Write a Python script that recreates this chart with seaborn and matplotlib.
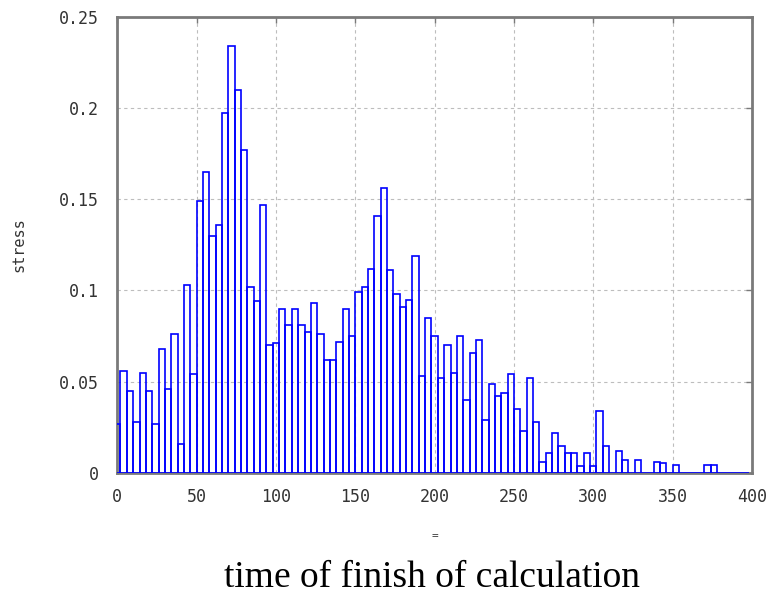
import numpy as np
import pandas as pd
import matplotlib
matplotlib.use("Agg")
import matplotlib.pyplot as plt
import seaborn as sns

# ---- data ----
bin_width = 4
stress = [
    0.027, 0.056, 0.045, 0.028, 0.055, 0.045, 0.027, 0.068, 0.046, 0.076,
    0.016, 0.103, 0.054, 0.149, 0.165, 0.130, 0.136, 0.197, 0.234, 0.210,
    0.177, 0.102, 0.094, 0.147, 0.070, 0.071, 0.090, 0.081, 0.090, 0.081,
    0.077, 0.093, 0.076, 0.062, 0.062, 0.072, 0.090, 0.075, 0.099, 0.102,
    0.112, 0.141, 0.156, 0.111, 0.098, 0.091, 0.095, 0.119, 0.053, 0.085,
    0.075, 0.052, 0.070, 0.055, 0.075, 0.040, 0.066, 0.073, 0.029, 0.049,
    0.042, 0.044, 0.054, 0.035, 0.023, 0.052, 0.028, 0.006, 0.011, 0.022,
    0.015, 0.011, 0.011, 0.004, 0.011, 0.004, 0.034, 0.015, 0.000, 0.012,
    0.007, 0.000, 0.007, 0.000, 0.000, 0.006, 0.0055, 0.000, 0.0045, 0.000,
    0.000, 0.000, 0.000, 0.0045, 0.0045, 0.000, 0.000, 0.000, 0.000, 0.000,
]
x_ticks = [0, 50, 100, 150, 200, 250, 300, 350, 400]
y_ticks = [0, 0.05, 0.1, 0.15, 0.2, 0.25]
y_tick_labels = ["0", "0.05", "0.1", "0.15", "0.2", "0.25"]
x_label = "="
y_label = "stress"
caption = "time of finish of calculation"

centers = np.arange(len(stress)) * bin_width
df = pd.DataFrame({"time": centers, "stress": stress})

sns.set_theme(style="white")
plt.rcParams["font.family"] = ["DejaVu Sans Mono", "DejaVu Sans"]

W, H = 775, 594
fig = plt.figure(figsize=(W / 100, H / 100), dpi=100)
left, right, top, bottom = 117.3, 752.0, 16.7, 473.0
ax = fig.add_axes([left / W, 1 - bottom / H, (right - left) / W, (bottom - top) / H])

sns.histplot(data=df, x="time", weights="stress", binwidth=bin_width,
             binrange=(-2, 398), element="bars", fill=False,
             color="#0000ff", linewidth=1.2, ax=ax)
for p in ax.patches:
    p.set_zorder(3)

ax.set_xlim(0, 400)
ax.set_ylim(0, 0.25)
ax.set_xticks(x_ticks)
ax.set_xticklabels([str(t) for t in x_ticks])
ax.set_yticks(y_ticks)
ax.set_yticklabels(y_tick_labels)

ax.grid(True, color="#bdbdbd", linestyle=(0, (3, 3)), linewidth=0.8)
ax.set_axisbelow(True)
for s in ax.spines.values():
    s.set_color("#7a7a7a")
    s.set_linewidth(2)
    s.set_visible(True)
    s.set_zorder(2.5)

ax.tick_params(direction="in", length=4, width=1, color="#7a7a7a",
               top=True, right=True, labelsize=12, labelcolor="#333333")
ax.tick_params(axis="y", pad=13)
ax.tick_params(axis="x", pad=11)

ax.set_xlabel(x_label, fontsize=8, color="#333333", labelpad=18)
ax.set_ylabel(y_label, fontsize=11, color="#333333", labelpad=24)

fig.text(0.557, 0.027, caption, family="Liberation Serif", fontsize=27,
         ha="center", va="center", color="black")

fig.savefig("out.png", dpi=100)
